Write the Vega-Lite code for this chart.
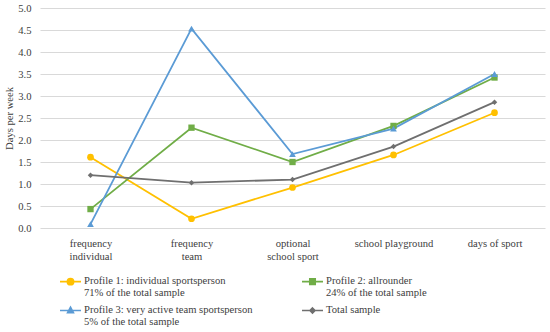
{
  "$schema": "https://vega.github.io/schema/vega-lite/v6.json",
  "width": 505,
  "height": 220,
  "autosize": "none",
  "padding": {"left": 40, "top": 8, "right": 5, "bottom": 104},
  "background": "white",
  "config": {
    "view": {"stroke": null},
    "font": "Liberation Serif",
    "axis": {"labelFont": "Liberation Serif", "titleFont": "Liberation Serif", "labelColor": "#404040", "titleColor": "#404040"},
    "legend": {"labelFont": "Liberation Serif"}
  },
  "data": {
    "values": [
      {"profile": "Profile 1: individual sportsperson", "measure": "frequency individual", "days": 1.61},
      {"profile": "Profile 1: individual sportsperson", "measure": "frequency team", "days": 0.21},
      {"profile": "Profile 1: individual sportsperson", "measure": "optional school sport", "days": 0.92},
      {"profile": "Profile 1: individual sportsperson", "measure": "school playground", "days": 1.66},
      {"profile": "Profile 1: individual sportsperson", "measure": "days of sport", "days": 2.62},
      {"profile": "Profile 2: allrounder", "measure": "frequency individual", "days": 0.43},
      {"profile": "Profile 2: allrounder", "measure": "frequency team", "days": 2.28},
      {"profile": "Profile 2: allrounder", "measure": "optional school sport", "days": 1.5},
      {"profile": "Profile 2: allrounder", "measure": "school playground", "days": 2.32},
      {"profile": "Profile 2: allrounder", "measure": "days of sport", "days": 3.42},
      {"profile": "Profile 3: very active team sportsperson", "measure": "frequency individual", "days": 0.09},
      {"profile": "Profile 3: very active team sportsperson", "measure": "frequency team", "days": 4.53},
      {"profile": "Profile 3: very active team sportsperson", "measure": "optional school sport", "days": 1.68},
      {"profile": "Profile 3: very active team sportsperson", "measure": "school playground", "days": 2.26},
      {"profile": "Profile 3: very active team sportsperson", "measure": "days of sport", "days": 3.5},
      {"profile": "Total sample", "measure": "frequency individual", "days": 1.2},
      {"profile": "Total sample", "measure": "frequency team", "days": 1.03},
      {"profile": "Total sample", "measure": "optional school sport", "days": 1.1},
      {"profile": "Total sample", "measure": "school playground", "days": 1.85},
      {"profile": "Total sample", "measure": "days of sport", "days": 2.86}
    ]
  },
  "encoding": {
    "x": {
      "field": "measure",
      "type": "nominal",
      "sort": ["frequency individual", "frequency team", "optional school sport", "school playground", "days of sport"],
      "scale": {"type": "point", "padding": 0.5},
      "axis": {
        "title": null,
        "labelAngle": 0,
        "ticks": false,
        "domain": false,
        "labelFontSize": 10.6,
        "labelPadding": 10,
        "labelLineHeight": 13,
        "labelExpr": "datum.label == 'frequency individual' ? ['frequency','individual'] : datum.label == 'frequency team' ? ['frequency','team'] : datum.label == 'optional school sport' ? ['optional','school sport'] : datum.label"
      }
    },
    "y": {
      "field": "days",
      "type": "quantitative",
      "scale": {"domain": [0, 5]},
      "axis": {
        "title": "Days per week",
        "titleFontSize": 10.6,
        "titleFontWeight": "normal",
        "titlePadding": 3,
        "values": [0, 0.5, 1, 1.5, 2, 2.5, 3, 3.5, 4, 4.5, 5],
        "format": ".1f",
        "labelFontSize": 10.6,
        "ticks": false,
        "domain": false,
        "labelPadding": 9,
        "gridColor": "#d9d9d9",
        "gridWidth": 1
      }
    },
    "color": {
      "field": "profile",
      "type": "nominal",
      "scale": {
        "domain": ["Profile 1: individual sportsperson", "Profile 2: allrounder", "Profile 3: very active team sportsperson", "Total sample"],
        "range": ["#FFC000", "#70AD47", "#5B9BD5", "#6F6F6F"]
      },
      "legend": {
        "title": null,
        "orient": "none",
        "direction": "horizontal",
        "legendX": 19,
        "legendY": 262,
        "columns": 2,
        "columnPadding": 45,
        "rowPadding": -2,
        "labelFontSize": 10.6,
        "labelColor": "#404040",
        "labelLimit": 400,
        "labelLineHeight": 13,
        "labelBaseline": "top",
        "labelOffset": 2,
        "symbolSize": 440,
        "symbolStrokeWidth": 1.6,
        "labelExpr": "datum.label == 'Profile 1: individual sportsperson' ? [datum.label, '71% of the total sample'] : datum.label == 'Profile 2: allrounder' ? [datum.label, '24% of the total sample'] : datum.label == 'Profile 3: very active team sportsperson' ? [datum.label, '5% of the total sample'] : datum.label",
        "encode": {
          "symbols": {
            "update": {
              "shape": {"signal": "datum.value == 'Profile 1: individual sportsperson' ? 'M-1,0H1M-0.3,0A0.3,0.3 0 1,0 0.3,0A0.3,0.3 0 1,0 -0.3,0Z' : datum.value == 'Profile 2: allrounder' ? 'M-1,0H1M-0.26,-0.26H0.26V0.26H-0.26Z' : datum.value == 'Profile 3: very active team sportsperson' ? 'M-1,0H1M0,-0.32L0.28,0.2H-0.28Z' : 'M-1,0H1M0,-0.24L0.24,0L0,0.24L-0.24,0Z'"},
              "fill": {"scale": "color", "field": "value"},
              "stroke": {"scale": "color", "field": "value"},
              "strokeWidth": {"value": 1.6},
              "opacity": {"value": 1}
            }
          },
          "labels": {"update": {"dy": {"value": -6}}}
        }
      }
    }
  },
  "layer": [
    {"mark": {"type": "line", "strokeWidth": 1.8}},
    {
      "transform": [{"filter": "datum.profile == 'Profile 1: individual sportsperson'"}],
      "mark": {"type": "point", "filled": true, "opacity": 1, "shape": "circle", "size": 45}
    },
    {
      "transform": [{"filter": "datum.profile == 'Profile 2: allrounder'"}],
      "mark": {"type": "point", "filled": true, "opacity": 1, "shape": "square", "size": 40}
    },
    {
      "transform": [{"filter": "datum.profile == 'Profile 3: very active team sportsperson'"}],
      "mark": {"type": "point", "filled": true, "opacity": 1, "shape": "triangle-up", "size": 45}
    },
    {
      "transform": [{"filter": "datum.profile == 'Total sample'"}],
      "mark": {"type": "point", "filled": true, "opacity": 1, "shape": "diamond", "size": 30}
    }
  ]
}
